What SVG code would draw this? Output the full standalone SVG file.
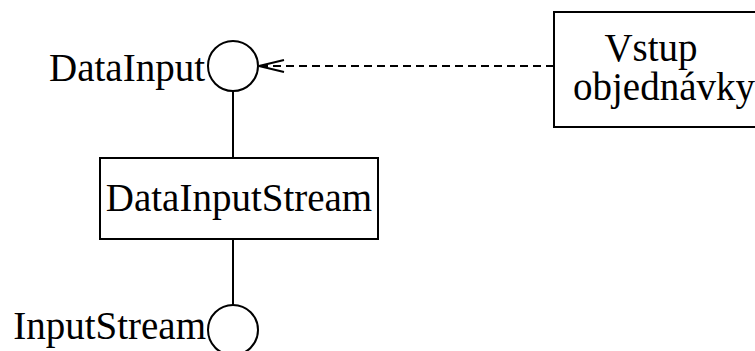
<svg xmlns="http://www.w3.org/2000/svg" width="755" height="351" viewBox="0 0 755 351">
  <style>
    .shape { fill: #ffffff; stroke: #000000; stroke-width: 2; }
    .line { fill: none; stroke: #000000; stroke-width: 2; }
    .dash { fill: none; stroke: #000000; stroke-width: 2; stroke-dasharray: 8 5; }
    .label { font-family: 'Liberation Serif', 'Times New Roman', serif; font-size: 39px; fill: #000000; }
  </style>
  <defs>
    <!-- open arrowhead for the dependency -->
    <marker id="open-arrow" markerUnits="userSpaceOnUse" markerWidth="30" markerHeight="20" refX="26" refY="10" orient="auto">
      <path d="M1,4 L26,10 L1,16" fill="none" stroke="#000000" stroke-width="2"/>
    </marker>
  </defs>
  <rect width="755" height="351" fill="#ffffff"/>

  <g id="connectors">
    <line class="line" x1="233" y1="91" x2="233" y2="158"/>
    <line class="line" x1="233" y1="239" x2="233" y2="305"/>
    <line class="dash" x1="554" y1="66" x2="259" y2="66" marker-end="url(#open-arrow)"/>
  </g>

  <g id="DataInput">
    <circle class="shape" cx="233" cy="66" r="25"/>
    <text class="label" x="205" y="81" text-anchor="end">DataInput</text>
  </g>

  <g id="DataInputStream">
    <rect class="shape" x="100" y="158" width="278" height="81"/>
    <text class="label" x="239" y="211" text-anchor="middle">DataInputStream</text>
  </g>

  <g id="InputStream">
    <circle class="shape" cx="233" cy="330" r="25"/>
    <text class="label" x="206" y="339" text-anchor="end">InputStream</text>
  </g>

  <g id="VstupObjednavky">
    <rect class="shape" x="554" y="12" width="220" height="115"/>
    <text class="label" x="651" y="61" text-anchor="middle">Vstup</text>
    <text class="label" x="664" y="100" text-anchor="middle">objednávky</text>
  </g>
</svg>
